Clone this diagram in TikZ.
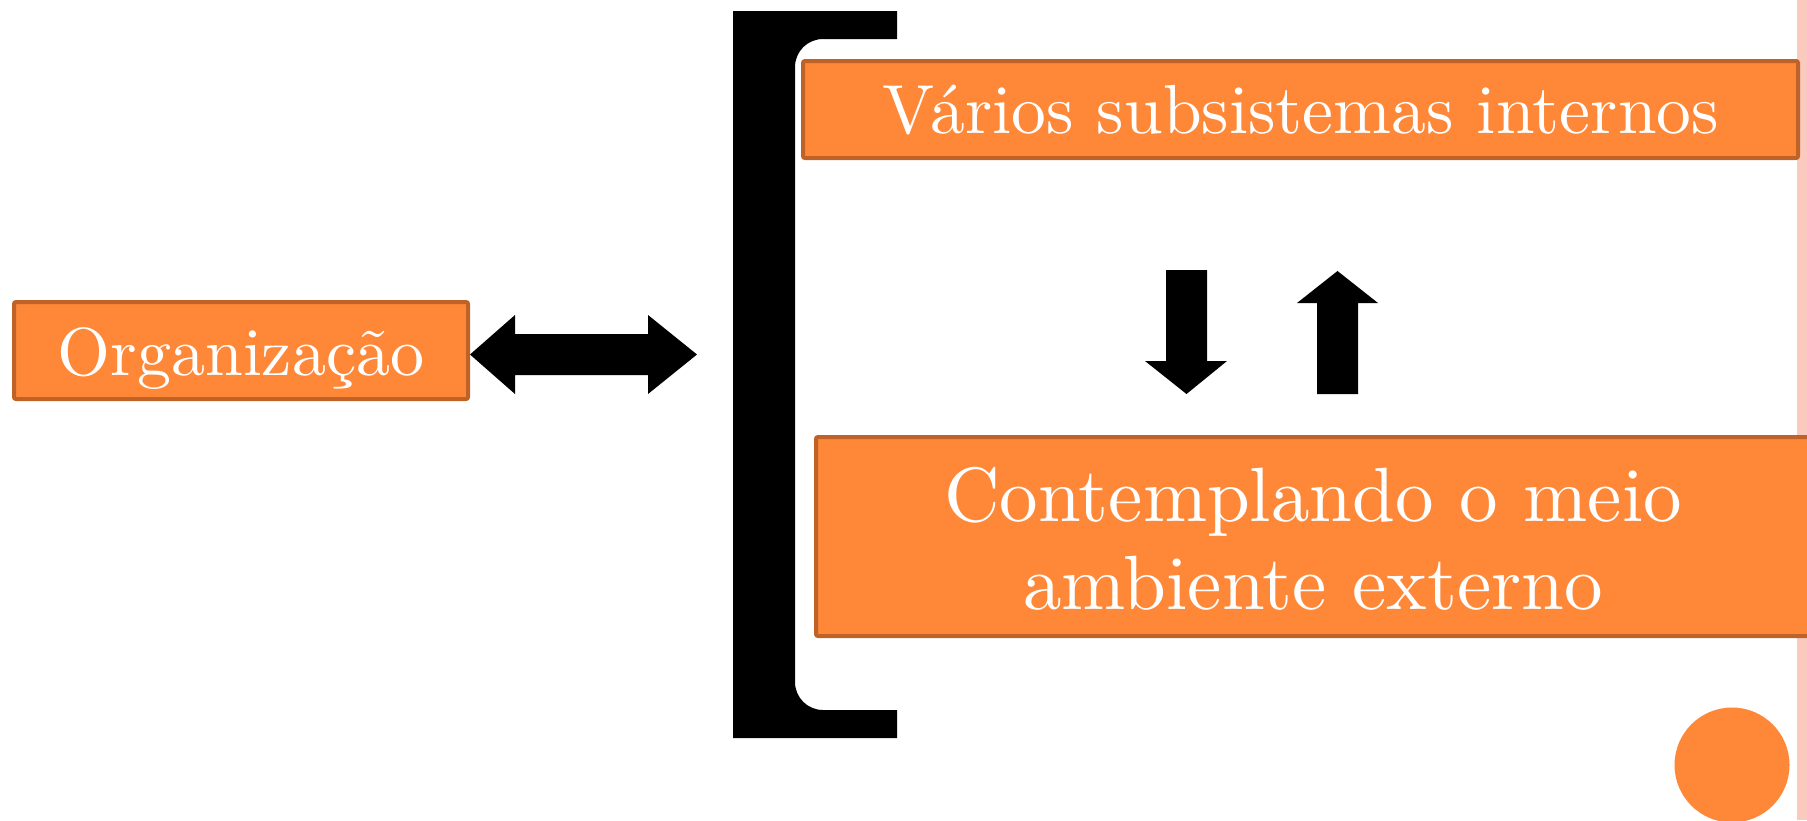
\documentclass[tikz,border=0pt]{standalone}
\usepackage{fontspec}
\setmainfont{lmroman10-regular.otf}
\definecolor{boxfill}{RGB}{254,136,56}
\definecolor{boxline}{RGB}{190,98,40}
\definecolor{stripcol}{RGB}{250,202,190}
\tikzset{
  orangebox/.style={draw=boxline, fill=boxfill, line width=4pt, rounded corners=2pt, inner sep=0pt},
  boxtext/.style={text=white, anchor=base, inner sep=0pt},
  blockarrow/.style={fill=black, draw=none},
}
\begin{document}
\begin{tikzpicture}[x=1pt, y=-1pt]
\useasboundingbox (0,0) rectangle (1807,820);
% right edge strip
\fill[stripcol] (1797,0) rectangle (1807,820);
% bracket
\fill[black] (733,11) -- (897,11) -- (897,39) -- (823,39) .. controls (807.5,39) and (795,51.5) .. (795,67) -- (795,682) .. controls (795,697.5) and (807.5,710) .. (823,710) -- (897,710) -- (897,738) -- (733,738) -- cycle;
% boxes
\node[orangebox, minimum width=454pt, minimum height=97pt] (org) at (241,350.5) {};
\node[orangebox, minimum width=995pt, minimum height=97pt] (sub) at (1300.5,109.5) {};
\node[orangebox, minimum width=994pt, minimum height=199pt] (ext) at (1313,536.5) {};
% texts
\node[boxtext, font=\fontsize{68}{80}\selectfont] (orgt) at (241,375) {Organização};
\node[boxtext, font=\fontsize{69.5}{80}\selectfont] (subt) at (1300.5,133) {Vários subsistemas internos};
\node[boxtext, font=\fontsize{77}{88}\selectfont] (extt1) at (1313,521) {Contemplando o meio};
\node[boxtext, font=\fontsize{77}{88}\selectfont] (extt2) at (1313,609) {ambiente externo};
% double arrow between organization and bracket
\coordinate (lt) at (org.east |- 0,354.5);
\coordinate (rt) at (697,354.5);
\fill[blockarrow] (lt) -- (515,315) -- (515,334) -- (648,334) -- (648,315) -- (rt) -- (648,394) -- (648,375) -- (515,375) -- (515,394) -- cycle;
% down arrow
\fill[blockarrow] (1166,270) -- (1207,270) -- (1207,361) -- (1227,361) -- (1186.5,394) -- (1145,361) -- (1166,361) -- cycle;
% up arrow
\fill[blockarrow] (1317,394) -- (1358,394) -- (1358,303) -- (1378,303) -- (1337.5,271) -- (1297,303) -- (1317,303) -- cycle;
% circle
\fill[boxfill] (1732,765) circle[radius=57.5];
\end{tikzpicture}
\end{document}
